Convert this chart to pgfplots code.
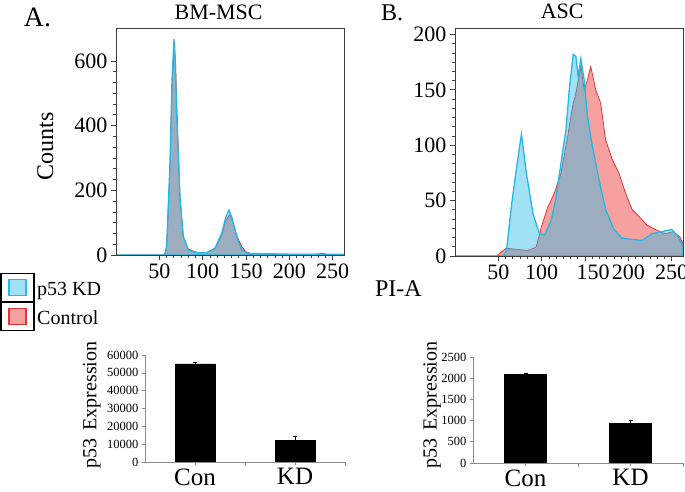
\documentclass[border=0pt]{standalone}
\usepackage{fontspec}
\setmainfont{Liberation Serif}
\usepackage{pgfplots}
\pgfplotsset{compat=1.18}
\definecolor{kdline}{RGB}{35,185,230}
\definecolor{kdfill}{RGB}{47,189,233}
\definecolor{conline}{RGB}{228,50,55}
\definecolor{confill}{RGB}{247,160,160}
\definecolor{axgray}{RGB}{60,60,60}
\definecolor{bargray}{RGB}{140,140,140}

\pgfplotstableread{
x y
0 0
54.6 0
56.5 4
58.4 24
62.3 270
64.6 520
67.2 650
68.6 600
70.5 430
73.8 175
77.6 58
83.4 18
93 8
104.6 8
114.1 19
121.9 60
126.8 108
131.5 125
134 110
139.5 58
145.5 24
150 10
156 4
180 3
200 2
230 2
238 5
244 2
263 1
}\bmcon
\pgfplotstableread{
x y
0 0
54.6 0
56.5 5
58.4 26
62.3 284
64.6 541
66.9 667
68.4 593
70 438
73.8 180
77.6 57
83.4 15
93 7
104.6 7
114.1 21
121.9 67
126.8 118
130.3 139
133.4 118
139.2 57
145 15
152.6 5
170 4
190 3
210 2
230 2
263 2
}\bmkd
\pgfplotstableread{
x y
0 0
48 0
54 4
59.4 7
70.9 6
84.2 5
93.7 8
99.5 26
107 44
114.7 57
122.3 75
130 108
135.6 135
140.2 150
145.2 172
149 150
152.8 159
156.6 171
162.3 150
168 138
173.7 105
181.4 87
189 75
196.6 57
204.2 42
211.8 36
221.4 28
230.9 24
242.3 20
251.8 22
259.5 17
263 11
}\asccon
\pgfplotstableread{
x y
0 0
55.6 0
59.4 5
65.2 46
70.9 79
76.6 110
82.3 75
90 38
97.5 20
103.3 19
110.9 32
116.6 53
123.4 90
128 114
131.8 150
136.4 182
139.4 180
142.1 162
145.2 178
149 159
152.8 126
158.5 99
166.1 69
173.7 42
183.3 24
192.8 16
204.2 15
215.7 14
227.1 20
238.5 22
250 24
257.6 17
263 8
}\asckd

\pgfplotsset{
 histo/.style={
  scale only axis, xmin=0, xmax=263, ymin=0,
  axis on top, clip mode=individual,
  axis line style={line width=0.8pt, axgray},
  tick align=outside, xtick pos=bottom, ytick pos=left,
  major tick length=5pt, minor tick length=3pt,
  minor tick num=5,
  tick style={axgray, line width=0.7pt},
  /pgf/number format/assume math mode=true,
  tick label style={font=\fontsize{22}{24}\selectfont},
  xtick={50,100,150,200,250},
  every axis title shift=0pt,
  title style={font=\fontsize{22}{24}\selectfont, anchor=base, yshift=9pt},
 },
 barax/.style={
  scale only axis, xmin=0.5, xmax=2.5, ymin=0,
  axis lines=left, axis line style={bargray, line width=0.8pt, -},
  xtick={1,2}, xticklabels={Con,KD},
  extra x ticks={1.5,2.5}, extra x tick labels={},
  extra x tick style={major tick length=4pt},
  tick align=outside, major tick length=3pt,
  tick style={bargray, line width=0.6pt},
  x tick label style={font=\fontsize{25}{27}\selectfont},
  y tick label style={font=\fontsize{12.5}{14}\selectfont},
  /pgf/number format/assume math mode=true,
  /pgf/number format/1000 sep={},
  scaled y ticks=false,
  ylabel style={font=\fontsize{20}{22}\selectfont, anchor=center},
 },
 barst/.style={ybar, fill=black, draw=black,
  error bars/y dir=both, error bars/y explicit,
  error bars/error bar style={black, line width=0.6pt},
  error bars/error mark options={rotate=90, mark size=2pt, black}},
}

\begin{document}
\begin{tikzpicture}
\path[use as bounding box] (0pt,0pt) rectangle (685pt,492pt);

% A histogram
\begin{axis}[histo, at={(116pt,237pt)}, anchor=south west,
  width=228pt, height=226.5pt, ymax=700,
  ytick={0,200,400,600},
  title={BM-MSC}, title style={at={(axis description cs:0.45,1)}},
  ylabel={Counts},
  ylabel style={font=\fontsize{24}{26}\selectfont, at={(axis description cs:-0.31,0.48)}, anchor=center},
  reverse legend,
  legend style={at={(axis description cs:-0.507,-0.078)}, anchor=north west,
    draw=none, fill=none, font=\fontsize{20}{22}\selectfont,
    row sep=0pt, inner sep=0pt, outer sep=0pt,
    nodes={inner xsep=2.5pt, inner ysep=0pt}},
  legend cell align=left,
  legend image code/.code={
    \path[draw=black, fill=none, draw opacity=1, line width=1.3pt] (0pt,-12pt) rectangle (33pt,16pt);
    \draw[#1, line width=1.2pt] (8pt,-6pt) rectangle (25pt,10pt);
  },
]
\addplot[draw=conline, line width=0.8pt, fill=confill] table {\bmcon} \closedcycle;
\addlegendentry{Control}
\addplot[draw=kdline, line width=1.3pt, fill=kdfill, fill opacity=0.45] table {\bmkd} \closedcycle;
\addlegendentry{p53 KD}
\node[anchor=base west, font=\fontsize{28}{30}\selectfont, inner sep=0pt] at (axis description cs:-0.405,1.007) {A.};
\end{axis}

% B histogram
\begin{axis}[histo, at={(455pt,236pt)}, anchor=south west,
  width=228pt, height=228pt, ymax=205.8,
  ytick={0,50,100,150,200},
  xticklabels={50,100,{\hspace{16pt}150},{200\hspace{16pt}},250},
  title={ASC}, title style={at={(axis description cs:0.47,1)}},
  xlabel={PI-A},
  xlabel style={font=\fontsize{24}{26}\selectfont, at={(axis description cs:-0.248,-0.145)}, anchor=center},
]
\addplot[draw=conline, line width=0.8pt, fill=confill] table {\asccon} \closedcycle;
\addplot[draw=kdline, line width=1.3pt, fill=kdfill, fill opacity=0.45] table {\asckd} \closedcycle;
\node[anchor=base west, font=\fontsize{24}{26}\selectfont, inner sep=0pt] at (axis description cs:-0.325,1.031) {B.};
\end{axis}

% A bars
\begin{axis}[barax, at={(145pt,30pt)}, anchor=south west,
  width=200pt, height=107pt, ymax=60000,
  ytick={0,10000,20000,30000,40000,50000,60000},
  ylabel={p53\hspace{8pt}Expression},
  ylabel style={at={(axis description cs:-0.265,0.533)}},
]
\addplot[barst, bar width=40pt] coordinates {(1,55000) +- (0,800) (2,12000) +- (0,2400)};
\end{axis}

% B bars
\begin{axis}[barax, at={(473pt,29pt)}, anchor=south west,
  width=210pt, height=106pt, ymax=2500,
  ytick={0,500,1000,1500,2000,2500},
  ylabel={p53\hspace{8pt}Expression},
  ylabel style={at={(axis description cs:-0.195,0.547)}},
]
\addplot[barst, bar width=42pt] coordinates {(1,2090) +- (0,30) (2,940) +- (0,70)};
\end{axis}
\end{tikzpicture}
\end{document}
